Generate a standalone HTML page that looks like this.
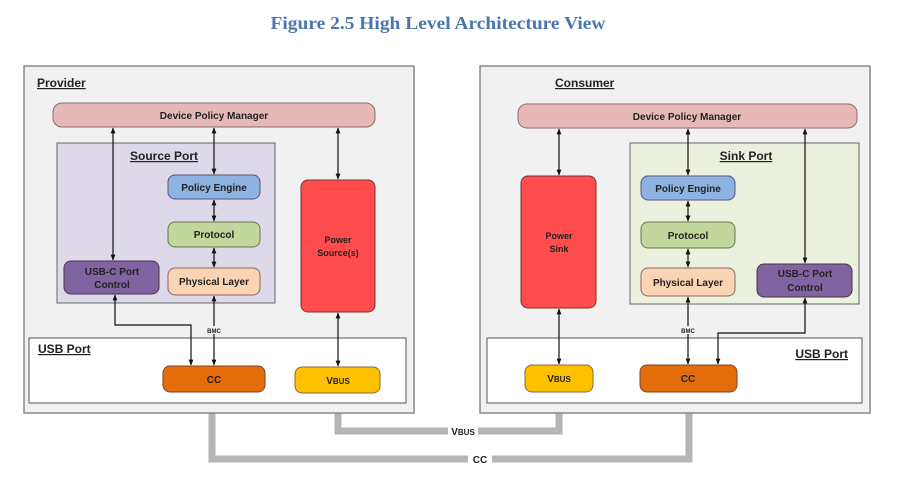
<!DOCTYPE html>
<html><head><meta charset="utf-8"><style>
html,body{margin:0;padding:0;background:#fff;}
svg{display:block;}
text{font-family:"Liberation Sans",sans-serif;font-weight:bold;fill:#222;}
</style></head><body>
<svg width="900" height="487" viewBox="0 0 900 487" xmlns="http://www.w3.org/2000/svg">
<defs>
<marker id="a" viewBox="0 0 10 10" refX="9" refY="5" markerWidth="5" markerHeight="5" orient="auto-start-reverse"><path d="M0,1 L10,5 L0,9 z" fill="#111"/></marker>
</defs>
<text x="438" y="29" text-anchor="middle" style="font-family:'Liberation Serif',serif;font-size:18px;fill:#4a76ad" textLength="335" lengthAdjust="spacingAndGlyphs">Figure 2.5 High Level Architecture View</text>

<!-- cables -->
<path d="M338,392 V431 H559 V392" fill="none" stroke="#b5b5b5" stroke-width="7"/>
<path d="M212,392 V459 H689 V392" fill="none" stroke="#b5b5b5" stroke-width="7"/>

<!-- Provider -->
<rect x="24" y="66" width="390" height="347" fill="#f1f1f1" stroke="#888" stroke-width="1.5"/>
<text x="37" y="87" font-size="12" text-decoration="underline">Provider</text>
<rect x="53" y="103" width="322" height="24" rx="9" fill="#e6b9b8" stroke="#8a6a6a"/>
<text x="214" y="119" font-size="10" text-anchor="middle">Device Policy Manager</text>
<rect x="57" y="143" width="218" height="160" fill="#ddd9e8" stroke="#666"/>
<text x="164" y="160" font-size="12" text-anchor="middle" text-decoration="underline">Source Port</text>
<rect x="168" y="175" width="92" height="24" rx="7" fill="#8db3e2" stroke="#557"/>
<text x="214" y="191" font-size="10" text-anchor="middle">Policy Engine</text>
<rect x="168" y="222" width="92" height="25" rx="7" fill="#c3d69b" stroke="#675"/>
<text x="214" y="238" font-size="10" text-anchor="middle">Protocol</text>
<rect x="168" y="268" width="92" height="27" rx="7" fill="#fbd4b4" stroke="#866"/>
<text x="214" y="285" font-size="10" text-anchor="middle">Physical Layer</text>
<rect x="64" y="261" width="95" height="33" rx="7" fill="#8064a2" stroke="#434"/>
<text x="112" y="275" font-size="10" text-anchor="middle">USB-C Port</text>
<text x="112" y="288" font-size="10" text-anchor="middle">Control</text>
<rect x="301" y="180" width="74" height="132" rx="7" fill="#ff4d4d" stroke="#733"/>
<text x="338" y="243" font-size="9" text-anchor="middle">Power</text>
<text x="338" y="256" font-size="9" text-anchor="middle">Source(s)</text>
<rect x="29" y="338" width="377" height="65" fill="#fff" stroke="#555"/>
<text x="38" y="353" font-size="12" text-decoration="underline">USB Port</text>
<rect x="163" y="366" width="102" height="26" rx="7" fill="#e46c0a" stroke="#743"/>
<text x="214" y="383" font-size="10" text-anchor="middle">CC</text>
<rect x="295" y="367" width="85" height="26" rx="7" fill="#ffc000" stroke="#864"/>
<text x="338" y="384" font-size="10" text-anchor="middle">V<tspan font-size="8">BUS</tspan></text>
<g stroke="#111" stroke-width="1.2" fill="none" marker-start="url(#a)" marker-end="url(#a)">
<line x1="113" y1="128" x2="113" y2="260"/>
<line x1="214" y1="128" x2="214" y2="174"/>
<line x1="214" y1="200" x2="214" y2="221"/>
<line x1="214" y1="248" x2="214" y2="267"/>
<line x1="214" y1="296" x2="214" y2="365"/>
<line x1="338" y1="128" x2="338" y2="179"/>
<line x1="338" y1="313" x2="338" y2="366"/>
<path d="M115,295 V325 H191 V365"/>
</g>
<rect x="204" y="326" width="20" height="8" fill="#f1f1f1"/>
<text x="214" y="333" font-size="6" text-anchor="middle">BMC</text>

<!-- Consumer -->
<rect x="480" y="66" width="390" height="347" fill="#f1f1f1" stroke="#888" stroke-width="1.5"/>
<text x="555" y="87" font-size="12" text-decoration="underline">Consumer</text>
<rect x="518" y="104" width="339" height="24" rx="9" fill="#e6b9b8" stroke="#8a6a6a"/>
<text x="687" y="120" font-size="10" text-anchor="middle">Device Policy Manager</text>
<rect x="630" y="143" width="229" height="161" fill="#ebf1de" stroke="#666"/>
<text x="746" y="160" font-size="12" text-anchor="middle" text-decoration="underline">Sink Port</text>
<rect x="641" y="176" width="94" height="24" rx="7" fill="#8db3e2" stroke="#557"/>
<text x="688" y="192" font-size="10" text-anchor="middle">Policy Engine</text>
<rect x="641" y="222" width="94" height="26" rx="7" fill="#c3d69b" stroke="#675"/>
<text x="688" y="239" font-size="10" text-anchor="middle">Protocol</text>
<rect x="641" y="268" width="94" height="28" rx="7" fill="#fbd4b4" stroke="#866"/>
<text x="688" y="286" font-size="10" text-anchor="middle">Physical Layer</text>
<rect x="757" y="264" width="95" height="33" rx="7" fill="#8064a2" stroke="#434"/>
<text x="805" y="277" font-size="10" text-anchor="middle">USB-C Port</text>
<text x="805" y="291" font-size="10" text-anchor="middle">Control</text>
<rect x="521" y="176" width="75" height="132" rx="7" fill="#ff4d4d" stroke="#733"/>
<text x="559" y="239" font-size="9" text-anchor="middle">Power</text>
<text x="559" y="252" font-size="9" text-anchor="middle">Sink</text>
<rect x="487" y="338" width="375" height="65" fill="#fff" stroke="#555"/>
<text x="848" y="358" font-size="12" text-anchor="end" text-decoration="underline">USB Port</text>
<rect x="525" y="365" width="68" height="27" rx="7" fill="#ffc000" stroke="#864"/>
<text x="559" y="382" font-size="10" text-anchor="middle">V<tspan font-size="8">BUS</tspan></text>
<rect x="640" y="365" width="97" height="27" rx="7" fill="#e46c0a" stroke="#743"/>
<text x="688" y="382" font-size="10" text-anchor="middle">CC</text>
<g stroke="#111" stroke-width="1.2" fill="none" marker-start="url(#a)" marker-end="url(#a)">
<line x1="559" y1="129" x2="559" y2="175"/>
<line x1="688" y1="129" x2="688" y2="175"/>
<line x1="688" y1="201" x2="688" y2="221"/>
<line x1="688" y1="249" x2="688" y2="267"/>
<line x1="688" y1="297" x2="688" y2="364"/>
<line x1="805" y1="129" x2="805" y2="263"/>
<line x1="559" y1="309" x2="559" y2="364"/>
<path d="M805,298 V333 H718 V364"/>
</g>
<rect x="678" y="326" width="20" height="8" fill="#f1f1f1"/>
<text x="688" y="333" font-size="6" text-anchor="middle">BMC</text>

<!-- cable labels -->
<rect x="448" y="425" width="30" height="12" fill="#fff"/>
<text x="463" y="435" font-size="10" text-anchor="middle">V<tspan font-size="8">BUS</tspan></text>
<rect x="468" y="453" width="24" height="12" fill="#fff"/>
<text x="480" y="463" font-size="10" text-anchor="middle">CC</text>
</svg>
</body></html>
